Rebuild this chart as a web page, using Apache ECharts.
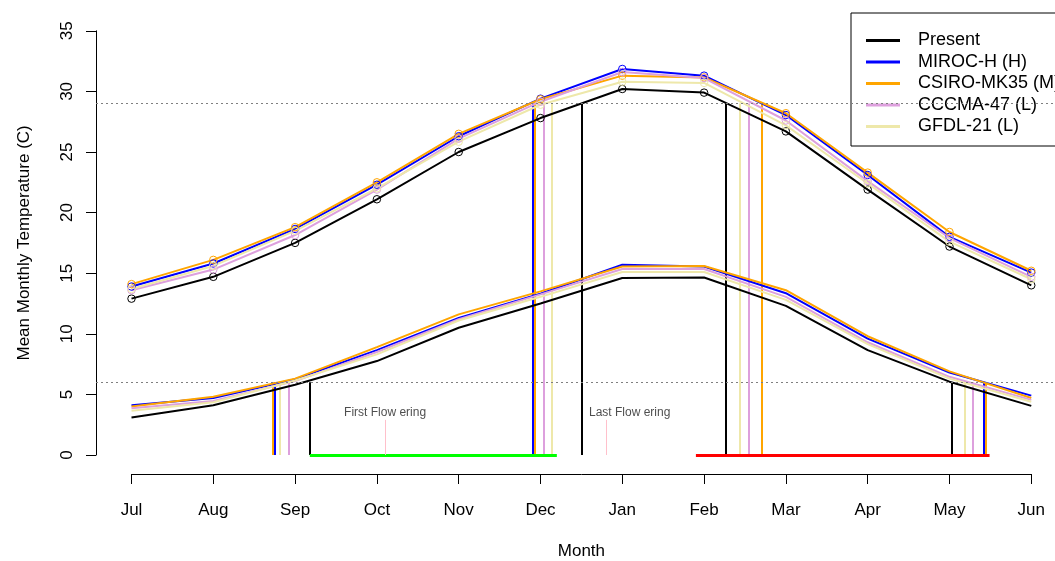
<!DOCTYPE html>
<html>
<head>
<meta charset="utf-8">
<script src="https://cdn.jsdelivr.net/npm/echarts@6/dist/echarts.min.js"></script>
<style>
  html, body { margin: 0; padding: 0; background: #fff; }
  #chart { width: 1055px; height: 561px; }
</style>
</head>
<body>
<div id="chart"></div>
<script>
// months, Jul -> Jun
const months = ['Jul', 'Aug', 'Sep', 'Oct', 'Nov', 'Dec', 'Jan', 'Feb', 'Mar', 'Apr', 'May', 'Jun'];
const models = ['Present', 'MIROC-H (H)', 'CSIRO-MK35 (M)', 'CCCMA-47 (L)', 'GFDL-21 (L)'];
const colors = ['#000000', '#0000ff', '#ffa500', '#dda0dd', '#eee8aa'];

// upper curves (max temp)
const maxPresent = [12.9, 14.7, 17.5, 21.1, 25.0, 27.8, 30.2, 29.9, 26.7, 21.9, 17.2, 14.0];
const maxMiroc   = [13.9, 15.8, 18.65, 22.3, 26.3, 29.4, 31.85, 31.3, 28.05, 23.1, 18.0, 15.05];
const maxCsiro   = [14.1, 16.1, 18.8, 22.5, 26.5, 29.35, 31.3, 31.15, 28.2, 23.3, 18.4, 15.2];
const maxCccma   = [13.6, 15.3, 18.15, 21.9, 26.1, 29.15, 31.6, 31.1, 27.6, 22.6, 17.9, 14.7];
const maxGfdl    = [13.7, 15.6, 18.5, 22.0, 25.85, 28.9, 30.8, 30.7, 27.2, 22.4, 17.6, 14.5];

// lower curves (min temp)
const minPresent = [3.1, 4.1, 5.8, 7.75, 10.5, 12.5, 14.6, 14.65, 12.3, 8.65, 6.05, 4.05];
const minMiroc   = [4.1, 4.7, 6.25, 8.65, 11.3, 13.3, 15.7, 15.55, 13.35, 9.6, 6.8, 4.9];
const minCsiro   = [4.0, 4.8, 6.3, 8.9, 11.6, 13.5, 15.55, 15.6, 13.6, 9.8, 6.9, 4.7];
const minCccma   = [3.85, 4.45, 6.1, 8.5, 11.2, 13.25, 15.35, 15.35, 13.05, 9.3, 6.45, 4.55];
const minGfdl    = [3.65, 4.35, 6.15, 8.3, 11.1, 13.05, 15.1, 15.1, 12.8, 9.15, 6.3, 4.4];

// thresholds (upper, lower)
const thresholds = [29, 6];

// crossing points in month index (order = models)
const upperRise = [5.51, 4.905, 4.93, 5.04, 5.14];
const upperFall = [7.27, 7.70, 7.71, 7.55, 7.44];
const lowerRise = [2.18, 1.75, 1.73, 1.925, 1.815];
const lowerFall = [10.03, 10.42, 10.44, 10.29, 10.19];

// flowering periods
const firstPeriod = [2.18, 5.2];
const lastPeriod = [6.9, 10.49];
const flowerMarks = [3.1, 5.8];
const flowerMarkTop = 2.9;
const flowerLabels = [['First Flow ering', 3.1, 3.47], ['Last Flow ering', 6.09, 3.47]];

const FONT = "'Liberation Sans', Arial, sans-serif";
const maxData = [maxPresent, maxMiroc, maxCsiro, maxCccma, maxGfdl];
const minData = [minPresent, minMiroc, minCsiro, minCccma, minGfdl];

const myChart = echarts.init(document.getElementById('chart'));

const series = [];

// threshold dotted lines
series.push({
  type: 'line',
  xAxisIndex: 0,
  yAxisIndex: 0,
  data: [],
  silent: true,
  markLine: {
    silent: true,
    symbol: 'none',
    label: { show: false },
    lineStyle: { color: '#7f7f7f', type: [2, 3], width: 1 },
    data: thresholds.map(t => ({ yAxis: t }))
  }
});

for (let i = 0; i < models.length; i++) {
  series.push({
    name: models[i],
    type: 'line',
    xAxisIndex: 0,
    yAxisIndex: 0,
    data: maxData[i].map((v, k) => [k, v]),
    symbol: 'circle',
    symbolSize: 7.5,
    showSymbol: true,
    lineStyle: { color: colors[i], width: 2 },
    itemStyle: { color: 'rgba(0,0,0,0)', borderColor: colors[i], borderWidth: 1 },
    emphasis: { disabled: true }
  });
}
for (let i = 0; i < models.length; i++) {
  series.push({
    name: models[i],
    type: 'line',
    xAxisIndex: 0,
    yAxisIndex: 0,
    data: minData[i].map((v, k) => [k, v]),
    symbol: 'none',
    lineStyle: { color: colors[i], width: 2 },
    itemStyle: { color: colors[i] },
    emphasis: { disabled: true }
  });
}

// vertical crossing lines
const verticals = [];
for (let i = 0; i < models.length; i++) {
  [[upperRise[i], thresholds[0]], [upperFall[i], thresholds[0]],
   [lowerRise[i], thresholds[1]], [lowerFall[i], thresholds[1]]].forEach(p => {
    verticals.push({ coords: [[p[0], 0], [p[0], p[1]]], lineStyle: { color: colors[i] } });
  });
}
series.push({
  type: 'lines',
  coordinateSystem: 'cartesian2d',
  xAxisIndex: 0,
  yAxisIndex: 0,
  clip: false,
  silent: true,
  lineStyle: { width: 2, opacity: 1 },
  data: verticals
});

// flowering periods + marks
series.push({
  type: 'lines',
  coordinateSystem: 'cartesian2d',
  xAxisIndex: 0,
  yAxisIndex: 0,
  clip: false,
  silent: true,
  lineStyle: { width: 3, opacity: 1 },
  data: [
    { coords: [[firstPeriod[0], 0], [firstPeriod[1], 0]], lineStyle: { color: '#00ff00' } },
    { coords: [[lastPeriod[0], 0], [lastPeriod[1], 0]], lineStyle: { color: '#ff0000' } }
  ].concat(flowerMarks.map(x => ({
    coords: [[x, 0], [x, flowerMarkTop]], lineStyle: { color: '#ffc0cb', width: 1 }
  })))
});

series.push({
  type: 'scatter',
  xAxisIndex: 0,
  yAxisIndex: 0,
  symbolSize: 0,
  silent: true,
  data: flowerLabels.map(d => ({ name: d[0], value: [d[1], d[2]] })),
  label: {
    show: true,
    position: 'inside',
    formatter: '{b}',
    color: '#222',
    fontSize: 12,
    fontFamily: FONT
  }
});

const option = {
  animation: false,
  backgroundColor: '#fff',
  textStyle: { fontFamily: FONT },
  legend: {
    left: 851,
    top: 13,
    orient: 'vertical',
    selectedMode: false,
    borderColor: '#000',
    borderWidth: 1,
    borderRadius: 0,
    padding: [17, 120, 9, 15],
    itemWidth: 34,
    itemHeight: 3,
    itemGap: 0.5,
    icon: 'rect',
    textStyle: { color: '#000', fontSize: 18, lineHeight: 21, fontFamily: FONT, padding: [0, 0, 0, 13] },
    data: models.map((m, i) => ({ name: m, itemStyle: { color: colors[i], borderWidth: 0 } }))
  },
  grid: [
    { left: 96, right: 0, top: 30.8, bottom: 106 },
    { left: 131.5, right: 23.7, top: 400, bottom: 85 }
  ],
  xAxis: [
    { type: 'value', gridIndex: 0, min: -0.434, max: 11.29, show: false },
    {
      type: 'value',
      gridIndex: 1,
      min: 0,
      max: 11,
      interval: 1,
      name: 'Month',
      nameLocation: 'middle',
      nameGap: 69,
      nameTextStyle: { color: '#000', fontSize: 17, fontFamily: FONT },
      axisLine: { show: true, onZero: false, lineStyle: { color: '#000', width: 1 } },
      axisTick: { show: true, length: 10, lineStyle: { color: '#000' } },
      axisLabel: { color: '#000', fontSize: 17, margin: 28, fontFamily: FONT, formatter: v => months[v] },
      splitLine: { show: false }
    }
  ],
  yAxis: [
    {
      type: 'value',
      gridIndex: 0,
      min: 0,
      max: 35,
      interval: 5,
      name: 'Mean Monthly Temperature (C)',
      nameLocation: 'middle',
      nameGap: 63,
      nameRotate: 90,
      nameTextStyle: { color: '#000', fontSize: 17, fontFamily: FONT },
      axisLine: { show: true, onZero: false, lineStyle: { color: '#000', width: 1 } },
      axisTick: { show: true, length: 10, lineStyle: { color: '#000' } },
      axisLabel: { color: '#000', fontSize: 17, rotate: 90, margin: 20, fontFamily: FONT },
      splitLine: { show: false }
    },
    { type: 'value', gridIndex: 1, show: false }
  ],
  series: series
};

myChart.setOption(option);
</script>
</body>
</html>
